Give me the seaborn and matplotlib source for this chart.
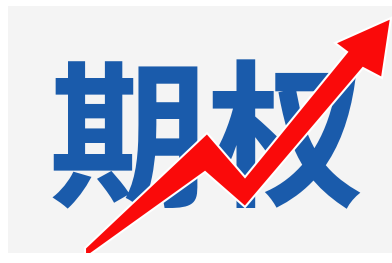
import matplotlib
matplotlib.use("Agg")
import matplotlib.pyplot as plt
import seaborn as sns

# content
title_text = "期权"
# arrow outline (image pixel coordinates, y downward)
arrow_x = [85, 207, 245, 347, 335, 391, 382, 363, 245, 205, 85]
arrow_y = [248, 133, 177, 52, 43, 18, 78, 68, 207, 172, 258]

sns.set_theme(style="white")
plt.rcParams['font.family'] = ['Noto Sans CJK SC', 'DejaVu Sans']

W, H = 392, 263
fig = plt.figure(figsize=(W / 100, H / 100), dpi=100)
fig.patch.set_facecolor("white")
ax = fig.add_axes([8 / W, (H - 253) / H, (W - 8) / W, (253 - 6) / H])
ax.set_facecolor("#f4f4f4")
ax.set_xlim(8, W)
ax.set_ylim(253, 6)
ax.axis("off")
ax.add_patch(plt.Rectangle((8, 6), W - 8, 247, color="#f4f4f4", zorder=0))

ax.text(207, 148, title_text, ha="center", va="center", fontsize=114,
        fontweight="black", color="#1a5bab", zorder=1)

ax.fill(arrow_x, arrow_y, facecolor="#fa0a0a", edgecolor="white",
        linewidth=1.5, joinstyle="miter", zorder=2)

fig.savefig("out.png", dpi=100, facecolor="white")
